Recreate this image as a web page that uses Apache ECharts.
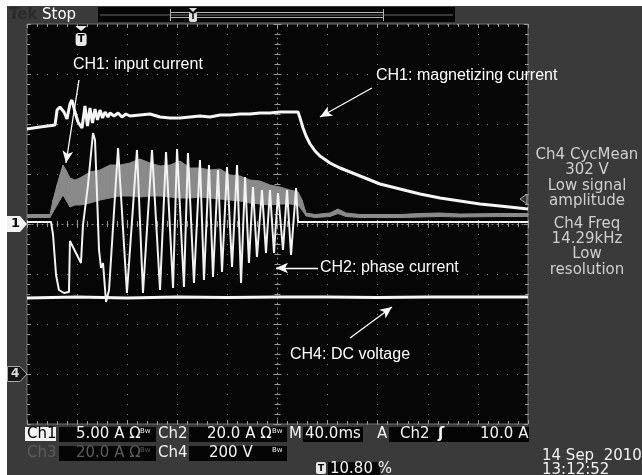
<!DOCTYPE html>
<html><head><meta charset="utf-8">
<script src="https://cdn.jsdelivr.net/npm/echarts@6/dist/echarts.min.js"></script>
<style>html,body{margin:0;padding:0;background:#3a3a3a}#c{width:642px;height:475px}</style>
</head><body><div id="c"></div>
<script>
// ---- scales (time in ms from left edge of screen, amplitude in divisions) ----
const timeMax = 400, timeDiv = 40, vMax = 4, vDiv = 1;
const ch1Ground = 0, ch4Ground = -3, triggerTime = 43.2, triggerLevel = 0.5;

// ---- CH1 (upper white trace: input / magnetizing current), [ms, div] ----
const magnetizing = [[0,1.90],[10.4,1.94],[22.4,1.98],[24.0,2.28],[26.3,2.34],[29.5,2.24],[31.9,2.10],[34.3,2.40],[35.9,2.48],[38.3,2.24],[40.7,2.04],[43.9,1.92],[46.3,2.36],[48.3,1.96],[50.3,2.32],[52.3,2.02],[54.3,2.30],[56.3,2.08],[58.3,2.28],[60.3,2.12],[62.3,2.24],[64.7,2.14],[66.3,2.22],[69.5,2.16],[72.7,2.22],[75.8,2.14],[79.0,2.20],[82.2,2.16],[90.2,2.18],[98.2,2.20],[106.2,2.14],[114.2,2.12],[122.2,2.12],[130.1,2.14],[138.1,2.16],[146.1,2.14],[154.1,2.18],[162.1,2.18],[170.1,2.20],[178.0,2.20],[186.0,2.22],[194.0,2.22],[202.0,2.24],[210.0,2.24],[216.4,2.24],[218.0,2.12],[220.4,1.92],[222.8,1.76],[226.0,1.60],[230.0,1.46],[233.9,1.36],[241.9,1.22],[249.9,1.12],[257.9,1.04],[265.9,0.96],[281.8,0.80],[297.8,0.70],[313.8,0.60],[329.8,0.52],[345.7,0.46],[361.7,0.40],[377.6,0.36],[400,0.30]];

// ---- CH2 phase current, [ms, div] ----
const phaseCurrent = [[0,0.04],[19.2,0.04],[20.8,-0.22],[23.2,-1.02],[25.5,-1.32],[29.5,-1.38],[33.5,-1.36],[34.3,-0.34],[43.1,-0.78],[44.7,-0.02],[48.7,0.78],[52.7,1.82],[54.3,1.68],[57.5,-0.52],[59.1,-0.88],[60.7,-0.78],[63.1,-1.56],[65.5,-1.32],[72.7,1.52],[79.8,-1.38],[87.8,1.48],[92.6,-1.38],[99.8,1.48],[106.2,-1.32],[111.0,1.44],[116.6,-1.28],[119.8,1.50],[125.3,-1.26],[128.5,1.42],[133.3,-1.18],[138.1,1.28],[141.3,-1.12],[145.3,1.18],[148.5,-1.06],[152.5,1.08],[155.7,-0.96],[159.7,1.14],[163.7,-0.86],[167.7,1.18],[170.9,-1.18],[174.1,0.94],[177.2,-0.78],[180.4,0.74],[183.6,-0.66],[187.6,0.68],[190.8,-0.58],[194.0,0.68],[197.2,-0.58],[200.4,0.62],[204.4,-0.52],[207.6,0.68],[210.8,-0.62],[214.8,0.72],[216.4,0.04],[400,0.04]];

// ---- grey trace (input current), envelope [ms, low div, high div] ----
const inputBand = [[0,0.13,0.19],[18.4,0.13,0.19],[20.8,0.24,0.48],[24.0,0.38,0.78],[26.3,0.48,0.98],[28.7,0.58,1.18],[31.1,0.48,1.08],[34.3,0.34,0.92],[38.3,0.38,0.88],[42.3,0.38,0.92],[50.3,0.42,1.04],[58.3,0.48,1.08],[66.3,0.52,1.18],[74.3,0.56,1.18],[82.2,0.56,1.22],[90.2,0.54,1.30],[98.2,0.56,1.22],[106.2,0.56,1.16],[114.2,0.54,1.18],[122.2,0.52,1.26],[130.1,0.52,1.12],[138.1,0.54,1.12],[146.1,0.52,1.08],[154.1,0.50,1.10],[162.1,0.48,0.98],[170.1,0.46,0.96],[178.0,0.42,0.88],[186.0,0.40,0.86],[194.0,0.38,0.78],[202.0,0.40,0.74],[210.0,0.40,0.68],[216.4,0.38,0.64],[219.6,0.28,0.48],[222.8,0.16,0.22],[230.0,0.13,0.19],[241.9,0.15,0.22],[248.3,0.21,0.30],[254.7,0.15,0.22],[265.9,0.13,0.19],[297.8,0.13,0.19],[313.8,0.14,0.21],[329.8,0.15,0.22],[345.7,0.14,0.20],[377.6,0.15,0.21],[400,0.15,0.21]];

// ---- CH4 DC voltage, [ms, div] ----
const dcVoltage = [[0,-1.48],[40,-1.46],[80,-1.48],[120,-1.46],[160,-1.47],[200,-1.46],[240,-1.46],[280,-1.47],[320,-1.46],[360,-1.46],[400,-1.46]];

// ---- annotation arrows [from, to] in [ms, div] and labels ----
const arrows = [[[41.5,2.88],[31.1,1.22]],[[275.4,2.72],[233.9,2.14]],[[232.3,-0.88],[198.8,-0.88]],[[257.9,-2.28],[291.4,-1.66]]];
const notes = ['CH1: input current','CH1: magnetizing current','CH2: phase current','CH4: DC voltage'];
const measLines = ['Ch4 CycMean','302 V','Low signal','amplitude','Ch4 Freq','14.29kHz','Low','resolution'];

const chart = echarts.init(document.getElementById('c'), null, {renderer:'canvas'});
const tickCol = '#9a9a9a';
const minor = {show:true, splitNumber:5, length:3, lineStyle:{color:tickCol, width:1}};
function ax(extra){
  return Object.assign({type:'value', axisLabel:{show:false}, splitLine:{show:false},
    axisLine:{show:false, onZero:false}, axisTick:{show:false}, minorTick:{show:false}}, extra);
}
const xs = {min:0, max:timeMax, interval:timeDiv};
const ys = {min:-vMax, max:vMax, interval:vDiv};
const dotted = {show:true, lineStyle:{color:'#8a8a8a', width:1, type:[1,9]}};
const centerLine = {show:true, onZero:true, lineStyle:{color:'#8a8a8a', width:1, type:[1,4]}};
const tickIn = {show:true, inside:true, length:4, lineStyle:{color:tickCol}};
const tickOut = {show:true, inside:false, length:4, lineStyle:{color:tickCol}};

const option = {
  animation:false,
  backgroundColor:'#3a3a3a',
  grid:{left:27, top:24, width:501, height:400, show:true, backgroundColor:'#060606', borderColor:'#707070', borderWidth:1},
  xAxis:[
    ax(Object.assign({position:'bottom', axisLine:centerLine, axisTick:tickIn, minorTick:minor, splitLine:dotted}, xs)),
    ax(Object.assign({position:'bottom', axisLine:{show:false,onZero:true}, axisTick:tickOut, minorTick:minor}, xs)),
    ax(Object.assign({position:'top', axisTick:tickIn, minorTick:minor}, xs)),
    ax(Object.assign({position:'bottom', axisTick:tickIn, minorTick:minor}, xs))
  ],
  yAxis:[
    ax(Object.assign({position:'left', offset:-250.5, axisLine:{show:true,onZero:false,lineStyle:{color:'#8a8a8a',width:1,type:[1,4]}}, axisTick:tickIn, minorTick:minor, splitLine:dotted}, ys)),
    ax(Object.assign({position:'left', offset:-250.5, axisTick:tickOut, minorTick:minor}, ys)),
    ax(Object.assign({position:'left', axisTick:tickIn, minorTick:minor}, ys)),
    ax(Object.assign({position:'right', axisTick:tickIn, minorTick:minor}, ys))
  ],
  series:[
    {type:'custom', name:'input', data:inputBand, encode:{x:0, y:[1,2]}, z:2, silent:true, clip:true,
     renderItem:function(params, api){
       const i = params.dataIndex;
       if (i >= inputBand.length-1) return null;
       const a = inputBand[i], b = inputBand[i+1];
       const pts = [api.coord([a[0],a[1]]), api.coord([b[0],b[1]]), api.coord([b[0],b[2]]), api.coord([a[0],a[2]])];
       return {type:'polygon', shape:{points:pts}, style:{fill:'#8a8a8a', stroke:'#8a8a8a', lineWidth:1}};
     }},
    {type:'line', name:'phase', data:phaseCurrent, showSymbol:false, z:3, lineStyle:{color:'#f2f2f2', width:2}},
    {type:'line', name:'mag', data:magnetizing, showSymbol:false, z:4, lineStyle:{color:'#f6f6f6', width:3}},
    {type:'line', name:'dc', data:dcVoltage, showSymbol:false, z:4, lineStyle:{color:'#f6f6f6', width:3},
     markLine:{silent:true, symbol:['none','arrow'], symbolSize:[8,12], animation:false, label:{show:false},
       lineStyle:{color:'#ffffff', width:1.3, type:'solid'},
       data:arrows.map(a => [{coord:a[0]},{coord:a[1]}])}}
  ]
};
chart.setOption(option);

const P = (x,y) => chart.convertToPixel({xAxisIndex:0, yAxisIndex:0}, [x,y]);
const g1 = P(0, ch1Ground), g4 = P(0, ch4Ground), tp = P(triggerTime, vMax), tl = P(timeMax, triggerLevel);
const F = 'DejaVu Sans';
const txt = (x,y,t,o) => Object.assign({type:'text', x:x, y:y, z:100, style:Object.assign({text:t, fill:'#f2f2f2', font:'15px "'+F+'"', textVerticalAlign:'middle', verticalAlign:'middle'}, o||{})});
const rect = (x,y,w,h,fill,o) => Object.assign({type:'rect', z:90, shape:{x:x,y:y,width:w,height:h}, style:{fill:fill}}, o||{});
const line = (x1,y1,x2,y2,c,w) => ({type:'line', z:95, shape:{x1:x1,y1:y1,x2:x2,y2:y2}, style:{stroke:c, lineWidth:w||1}});

const G = [];
// white photo border
G.push(rect(0,0,642,6,'#ffffff'), rect(0,0,7,475,'#ffffff'));
// top status bar
G.push(txt(9,15,'Tek',{fill:'#2a2a2a', font:'bold 15px "'+F+'"'}));
G.push(txt(42,15,'Stop',{fill:'#ffffff'}));
G.push(rect(98,7,357,15,'#050505'));
G.push(line(100,15,453,15,'#6a6a6a',1));
G.push(line(170,12.5,384,12.5,'#b0b0b0',1), line(170,17.5,384,17.5,'#b0b0b0',1));
G.push(line(170.5,9,170.5,21,'#b0b0b0',1), line(383.5,9,383.5,21,'#b0b0b0',1));
G.push({type:'polygon', z:96, shape:{points:[[189,8],[197,8],[193,12]]}, style:{fill:'#dddddd'}});
G.push(rect(189,12,8,10,'#e0e0e0',{z:96, shape:{x:189,y:12,width:8,height:10,r:2}}));
G.push(txt(193,17,'T',{fill:'#000', font:'bold 8px "'+F+'"', align:'center', textAlign:'center'}));
// trigger position marker
G.push({type:'polygon', z:96, shape:{points:[[tp[0]-6,tp[1]+2],[tp[0]+6,tp[1]+2],[tp[0],tp[1]+7]]}, style:{fill:'#e8e8e8'}});
G.push({type:'rect', z:96, shape:{x:tp[0]-5.5,y:tp[1]+9,width:11,height:13,r:3}, style:{fill:'#e8e8e8'}});
G.push(txt(tp[0],tp[1]+15.5,'T',{fill:'#000', font:'bold 10px "'+F+'"', align:'center', textAlign:'center'}));
// trigger level marker (right edge)
G.push({type:'polygon', z:96, shape:{points:[[tl[0]-1,tl[1]-5],[tl[0]-1,tl[1]+5],[tl[0]-8,tl[1]]]}, style:{fill:'#333', stroke:'#aaa', lineWidth:1}});
// channel ground markers
G.push({type:'polygon', z:96, shape:{points:[[7,g1[1]-8],[20,g1[1]-8],[27,g1[1]],[20,g1[1]+8],[7,g1[1]+8]]}, style:{fill:'#f2f2f2'}});
G.push(txt(11,g1[1],'1',{fill:'#000', font:'bold 13px "'+F+'"'}));
G.push({type:'polygon', z:96, shape:{points:[[7.5,g4[1]-7.5],[20,g4[1]-7.5],[27,g4[1]],[20,g4[1]+7.5],[7.5,g4[1]+7.5]]}, style:{fill:'#151515', stroke:'#aaaaaa', lineWidth:1}});
G.push(txt(11,g4[1],'4',{fill:'#dddddd', font:'bold 12px "'+F+'"'}));
// annotations
const AF = '16px "Liberation Sans"';
G.push(txt(73,65,notes[0],{fill:'#fff', font:AF}));
G.push(txt(376,76,notes[1],{fill:'#fff', font:AF}));
G.push(txt(320,268,notes[2],{fill:'#fff', font:AF}));
G.push(txt(290,355,notes[3],{fill:'#fff', font:AF}));
// measurement panel
const my = [155,170,186,201,224,239,254,270];
measLines.forEach((t,i) => G.push(txt(587,my[i],t,{fill:'#cfcfcf', align:'center', textAlign:'center'})));
// bottom readouts
const r1 = 434, r2 = 453, r3 = 469;
G.push(rect(25,427,31,14,'#f4f4f4'));
G.push(txt(27,r1,'Ch1',{fill:'#000'}));
G.push(rect(59,427,97,15,'#050505'), txt(76,r1,'5.00 A Ω'), txt(140,r1-3,'Bw',{font:'7px "'+F+'"'}));
G.push(txt(158,r1,'Ch2'));
G.push(rect(189,427,98,15,'#050505'), txt(207,r1,'20.0 A Ω'), txt(272,r1-3,'Bw',{font:'7px "'+F+'"'}));
G.push(txt(289,r1,'M'));
G.push(rect(303,427,60,15,'#050505'), txt(305,r1,'40.0ms'));
G.push(txt(377,r1,'A'));
G.push(rect(389,427,140,15,'#050505'), txt(400,r1,'Ch2'), txt(438,r1,'ʃ',{font:'bold 15px "'+F+'"'}), txt(480,r1,'10.0 A'));
G.push(txt(27,r2,'Ch3',{fill:'#5c5c5c'}));
G.push(rect(59,446,97,15,'#050505'), txt(76,r2,'20.0 A Ω',{fill:'#5c5c5c'}), txt(140,r2-3,'Bw',{fill:'#5c5c5c', font:'7px "'+F+'"'}));
G.push(txt(158,r2,'Ch4'));
G.push(rect(189,446,98,15,'#050505'), txt(209,r2,'200 V'), txt(272,r2-3,'Bw',{font:'7px "'+F+'"'}));
G.push(rect(316,462,10,12,'#e8e8e8',{shape:{x:316,y:462,width:10,height:12,r:2}}), txt(321,r3,'T',{fill:'#000', font:'bold 9px "'+F+'"', align:'center', textAlign:'center'}));
G.push(rect(328,462,52,13,'#050505'), txt(330,r3,'10.80 %'));
G.push(txt(542,456,'14 Sep  2010'), txt(542,470,'13:12:52'));
chart.setOption({graphic:G});
</script></body></html>
